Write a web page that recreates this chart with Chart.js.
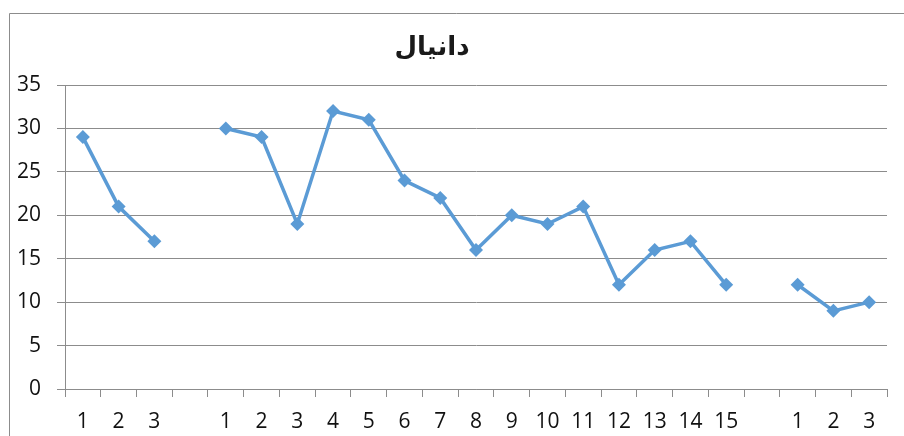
<!DOCTYPE html>
<html>
<head>
<meta charset="utf-8">
<script src="https://cdn.jsdelivr.net/npm/chart.js@4/dist/chart.umd.min.js"></script>
<style>
  html, body { margin: 0; padding: 0; background: #fff; }
  #wrap { width: 904px; height: 436px; position: relative; }
</style>
</head>
<body>
<div id="wrap"><canvas id="myChart" width="904" height="436"></canvas></div>
<script>
// categories: three groups separated by empty slots
var labels = ["1","2","3","", "1","2","3","4","5","6","7","8","9","10","11","12","13","14","15","", "1","2","3"];
var values = [29,21,17,null, 30,29,19,32,31,24,22,16,20,19,21,12,16,17,12,null, 12,9,10];
var chartTitle = "دانیال";
var yTicks = [0,5,10,15,20,25,30,35];

var gridColor = "#8c8c8c";
var lineColor = "#5b9bd5";

// title + outer frame, drawn by hand so the title sits where it does in the picture
var framePlugin = {
  id: "frame",
  beforeDraw: function(chart) {
    var ctx = chart.ctx;
    ctx.save();
    ctx.fillStyle = "#fff";
    ctx.fillRect(0, 0, chart.width, chart.height);
    ctx.strokeStyle = "#8c8c8c";
    ctx.lineWidth = 1;
    ctx.beginPath();
    ctx.moveTo(9.5, chart.height);
    ctx.lineTo(9.5, 13.5);
    ctx.lineTo(chart.width, 13.5);
    ctx.stroke();
    ctx.restore();
  },
  afterDraw: function(chart) {
    var ctx = chart.ctx;
    ctx.save();
    ctx.fillStyle = "#1a1a1a";
    ctx.font = "bold 26px 'DejaVu Sans'";
    ctx.textAlign = "center";
    ctx.textBaseline = "middle";
    ctx.fillText(chartTitle, 432, 48);
    ctx.restore();
  }
};

var myLineChart = new Chart(document.getElementById("myChart"), {
  type: "line",
  data: {
    labels: labels,
    datasets: [{
      data: values,
      borderColor: lineColor,
      backgroundColor: lineColor,
      borderWidth: 3.5,
      lineTension: 0,
      fill: false,
      spanGaps: false,
      pointStyle: "rectRot",
      pointRadius: 7,
      pointBorderWidth: 0,
      pointBackgroundColor: lineColor
    }]
  },
  options: {
    responsive: false,
    animation: false,
    layout: { padding: { left: 10, top: 85, right: 17, bottom: 0 } },
    plugins: {
      legend: { display: false },
      title: { display: false },
      tooltip: { enabled: false }
    },
    scales: {
      x: {
        offset: true,
        grid: {
          offset: true,
          drawOnChartArea: false,
          drawTicks: true,
          tickLength: 8,
          color: gridColor
        },
        border: { color: gridColor },
        ticks: {
          color: "#111",
          font: { family: "'Open Sans'", size: 21 },
          maxRotation: 0,
          autoSkip: false,
          padding: 12
        },
        afterFit: function(scale) { scale.height = 47; }
      },
      y: {
        min: 0,
        max: 35,
        afterBuildTicks: function(scale) {
          scale.ticks = yTicks.map(function(v) { return { value: v }; });
        },
        grid: {
          color: gridColor,
          tickLength: 8
        },
        border: { color: gridColor },
        ticks: {
          color: "#111",
          font: { family: "'Open Sans'", size: 21 },
          padding: 16
        },
        afterFit: function(scale) { scale.width = 55; }
      }
    }
  },
  plugins: [framePlugin]
});
</script>
</body>
</html>
